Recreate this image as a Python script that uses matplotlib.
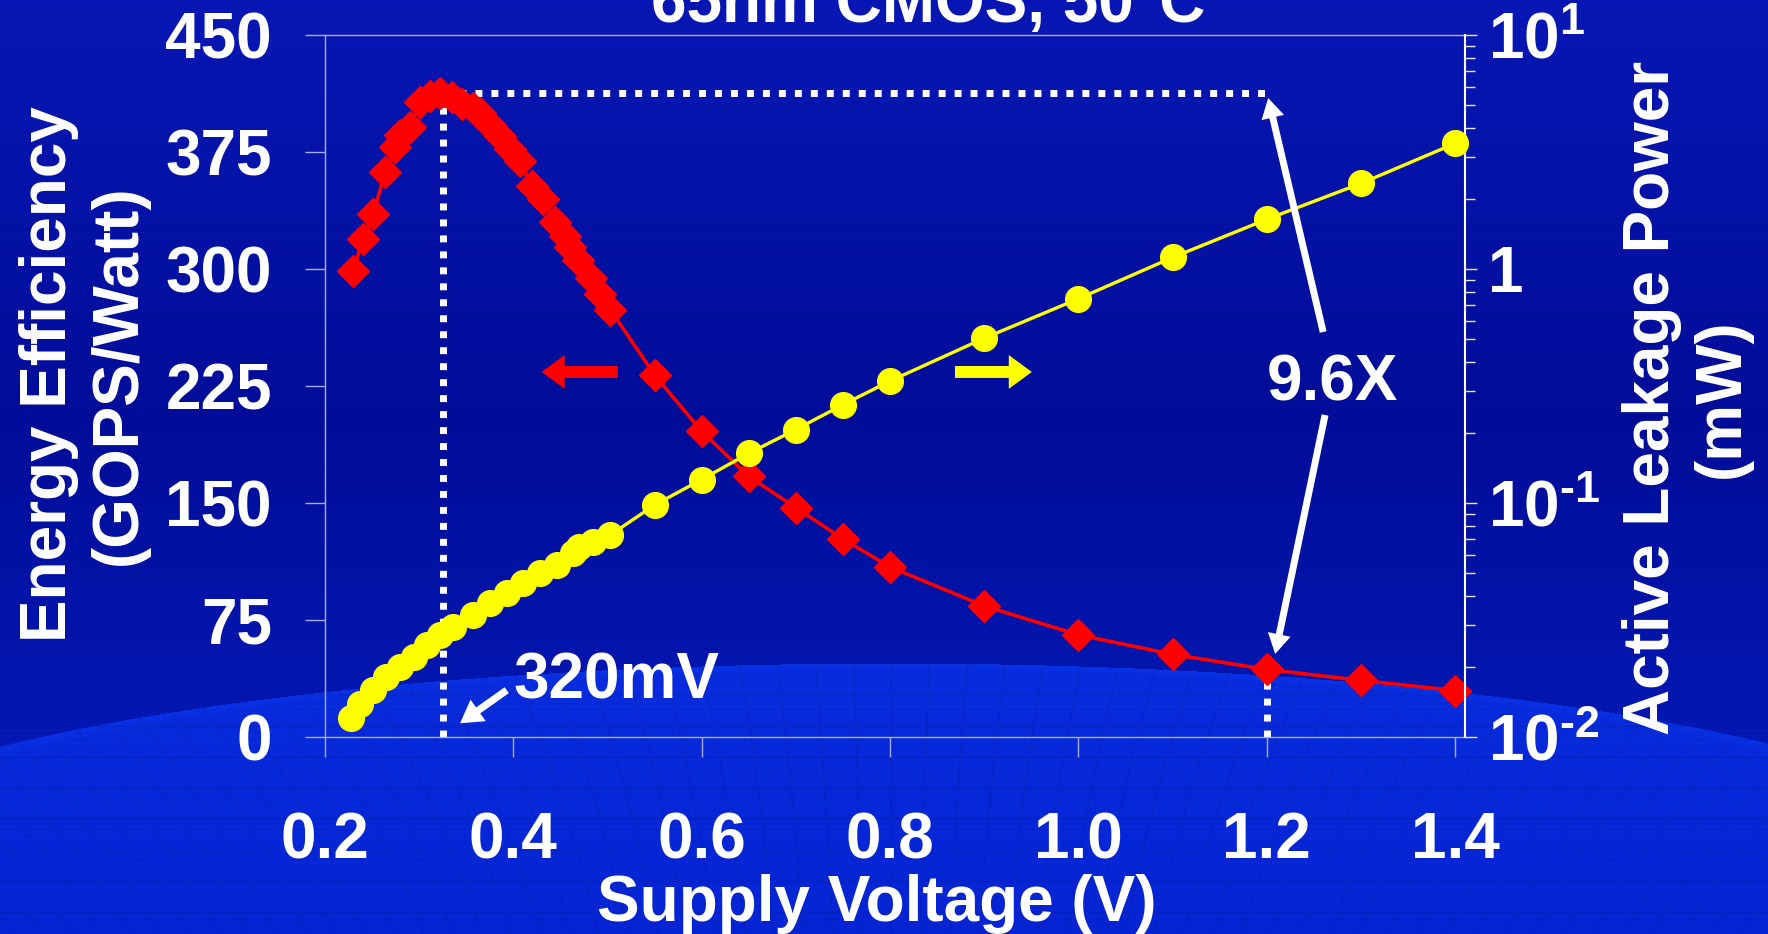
import numpy as np
import matplotlib as mpl
import matplotlib.pyplot as plt
from matplotlib.ticker import FixedLocator, FixedFormatter, LogLocator, NullFormatter

# ---- data ----
# energy efficiency (left axis, GOPS/W)
v_eff = [0.230, 0.240, 0.251, 0.264, 0.274, 0.280, 0.290, 0.301, 0.311, 0.322,
         0.335, 0.345, 0.357, 0.365, 0.375, 0.386, 0.396, 0.407, 0.420, 0.432,
         0.444, 0.455, 0.460, 0.469, 0.482, 0.492, 0.503,
         0.55, 0.60, 0.65, 0.70, 0.75, 0.80, 0.90, 1.00, 1.10, 1.20, 1.30, 1.40]
eff = [299, 319, 335, 362, 378, 386, 391, 407, 411, 412.5,
       410, 406, 403, 400, 392, 385, 377, 369, 353, 345,
       330, 321, 314, 306, 294, 284, 274,
       232, 196, 167, 147, 127, 109, 84, 65.5, 53, 43.3, 36.3, 29.8]

# active leakage power (right axis, mW)
v_leak = [0.228, 0.237, 0.251, 0.265, 0.280, 0.294, 0.308, 0.322, 0.336, 0.357,
          0.375, 0.393, 0.410, 0.428, 0.446, 0.463, 0.470, 0.485, 0.503,
          0.55, 0.60, 0.65, 0.70, 0.75, 0.80, 0.90, 1.00, 1.10, 1.20, 1.30, 1.40]
p_leak = [0.0120, 0.0138, 0.0159, 0.0181, 0.0200, 0.0220, 0.0247, 0.0273, 0.0296, 0.0332,
          0.0374, 0.0412, 0.0455, 0.0502, 0.0543, 0.0611, 0.0650, 0.0680, 0.0730,
          0.098, 0.126, 0.163, 0.206, 0.263, 0.332, 0.506, 0.746, 1.12, 1.63, 2.32, 3.44]

x_ticks = [0.2, 0.4, 0.6, 0.8, 1.0, 1.2, 1.4]
x_labels = ['0.2', '0.4', '0.6', '0.8', '1.0', '1.2', '1.4']
eff_ticks = [0, 75, 150, 225, 300, 375, 450]
leak_ticks = [0.01, 0.1, 1, 10]
leak_labels = [r'$10^{\text{-2}}$', r'$10^{\text{-1}}$', '1', r'$10^{1}$']

v_opt = 0.325      # minimum energy point marker line
eff_peak = 412.5
v_nom = 1.2
eff_nom = 43.3

##############################################################################
mpl.rcParams['font.family'] = 'Liberation Sans'
mpl.rcParams['font.weight'] = 'bold'
mpl.rcParams['mathtext.fontset'] = 'custom'
mpl.rcParams['mathtext.rm'] = 'Liberation Sans:bold'
mpl.rcParams['mathtext.it'] = 'Liberation Sans:bold'
mpl.rcParams['mathtext.bf'] = 'Liberation Sans:bold'
FS = 46
lav = '#A8AEF5'

fig = plt.figure(figsize=(17.68, 9.34), dpi=100)

# slide background: blue gradient + globe at the bottom
H, W = 934, 1768
yy, xx = np.mgrid[0:H, 0:W]
t = yy / H
img = np.zeros((H, W, 3))
for c, (a, b, d) in enumerate([(0.03, 0.00, 0.02), (0.09, 0.05, 0.12), (0.70, 0.59, 0.76)]):
    img[..., c] = np.interp(t, [0, 0.45, 1], [a, b, d])
r = ((xx - 890) / 1100.0) ** 2 + ((yy - 865) / 202.0) ** 2
globe = r < 1
g = np.clip((yy - 663) / 270.0, 0, 1)
rim = np.clip((r - 0.93) / 0.07, 0, 1)
img[..., 0] = np.where(globe, 0.03 - 0.01 * g, img[..., 0])
img[..., 1] = np.where(globe, 0.17 - 0.03 * g + 0.03 * rim, img[..., 1])
img[..., 2] = np.where(globe, 0.86 - 0.04 * g + 0.04 * rim, img[..., 2])
# faint grid texture on the globe
grid = (((xx - 890) * (1 + (yy - 663) / 900.0)) % 38 < 2) | ((yy - 663) % 31 < 2)
img[globe & grid] *= 0.93
img *= (1 + 0.025 * ((yy // 3) % 2))[..., None]
bg = fig.add_axes([0, 0, 1, 1], zorder=-10)
bg.imshow(np.clip(img, 0, 1), aspect='auto', extent=[0, 1, 0, 1], interpolation='bilinear')
bg.axis('off')

ax = fig.add_axes([0.18382, 0.21092, 0.64480, 0.75161])
ax2 = ax.twinx()
for a in (ax, ax2):
    a.patch.set_visible(False)

# dotted guide lines
dots = dict(color='white', lw=5, linestyle=(0, (1, 1.3)), dash_capstyle='butt', zorder=2)
ax.plot([v_opt, v_opt], [0, eff_peak], **dots)
ax.plot([v_opt, v_nom], [eff_peak, eff_peak], **dots)
ax.plot([v_nom, v_nom], [0, eff_nom], **dots)

ax.plot(v_eff, eff, color='red', lw=2.6, marker='D', ms=16, mfc='red', mec='red',
        zorder=3, clip_on=False)
ax2.plot(v_leak, p_leak, color='yellow', lw=2.4, marker='o', ms=18.5, mfc='yellow',
         mec='yellow', zorder=3, clip_on=False)

ax.set_xlim(0.2, 1.4106)
ax.set_ylim(0, 450)
ax2.set_yscale('log')
ax2.set_ylim(0.01, 10)

ax.set_xticks(x_ticks)
ax.set_xticklabels(x_labels)
ax.set_yticks(eff_ticks)
ax2.yaxis.set_major_locator(FixedLocator(leak_ticks))
ax2.yaxis.set_major_formatter(FixedFormatter(leak_labels))
ax2.yaxis.set_minor_locator(LogLocator(base=10, subs=np.arange(2, 10)))
ax2.yaxis.set_minor_formatter(NullFormatter())

ax.tick_params(axis='y', direction='out', length=14.4, width=1, color=lav,
               labelsize=FS, labelcolor='white', pad=23.8)
ax.tick_params(axis='x', direction='out', length=14.4, width=1, color=lav,
               labelsize=FS, labelcolor='white', pad=39)
ax2.tick_params(axis='y', which='major', direction='out', length=8.6, width=1,
                color='#E8E8E8', labelsize=FS, labelcolor='white', pad=8)
ax2.tick_params(axis='y', which='minor', direction='out', length=7, width=1, color='#E8E8E8')

for s in ('left', 'top', 'bottom'):
    ax.spines[s].set_color(lav)
    ax.spines[s].set_linewidth(1)
    ax2.spines[s].set_visible(False)
ax.spines['right'].set_visible(False)
ax2.spines['right'].set_color('white')
ax2.spines['right'].set_linewidth(1.5)

# arrows and notes (drawn in left-axis data coordinates, on top of everything)
def arrow(tip, tail, style, col):
    ax2.annotate('', xy=tip, xycoords=ax.transData, xytext=tail, textcoords=ax.transData,
                 arrowprops=dict(arrowstyle=style, color=col, shrinkA=0, shrinkB=0,
                                 mutation_scale=20, lw=0))

block = 'simple,head_length=0.83,head_width=1.22,tail_width=0.43'
arrow((0.430, 234), (0.511, 234), block, 'red')
arrow((0.9506, 234), (0.869, 234), block, 'yellow')
thin = 'simple,head_length=0.72,head_width=0.83,tail_width=0.25'
arrow((1.2016, 409.6), (1.26, 259.6), thin, 'white')
arrow((1.209, 53.2), (1.262, 206.4), thin, 'white')
arrow((0.3434, 8.8), (0.393, 30), 'simple,head_length=0.8,head_width=0.95,tail_width=0.26', 'white')

ax2.text(1.2696, 215.4, '9.6X', transform=ax.transData, ha='center', va='baseline',
         fontsize=FS, color='white', fontweight='bold')
ax2.text(0.3997, 25, '320mV', transform=ax.transData, ha='left', va='baseline',
         fontsize=FS, color='white', fontweight='bold')

# titles and axis labels
fig.text(0.525, 1 - 22 / 934, '65nm CMOS, 50°C', ha='center', va='baseline',
         fontsize=FS, color='white', fontweight='bold')
fig.text(0.496, 13 / 934, 'Supply Voltage (V)', ha='center', va='baseline',
         fontsize=FS, color='white', fontweight='bold')
fig.text(0.0475, 0.599, 'Energy Efficiency\n(GOPS/Watt)', rotation=90, ha='center',
         va='center', multialignment='center', fontsize=FS, color='white', fontweight='bold')
fig.text(0.9542, 0.574, 'Active Leakage Power\n(mW)', rotation=90, ha='center',
         va='center', multialignment='center', fontsize=FS, color='white', fontweight='bold')

fig.savefig('out.png', dpi=100)
